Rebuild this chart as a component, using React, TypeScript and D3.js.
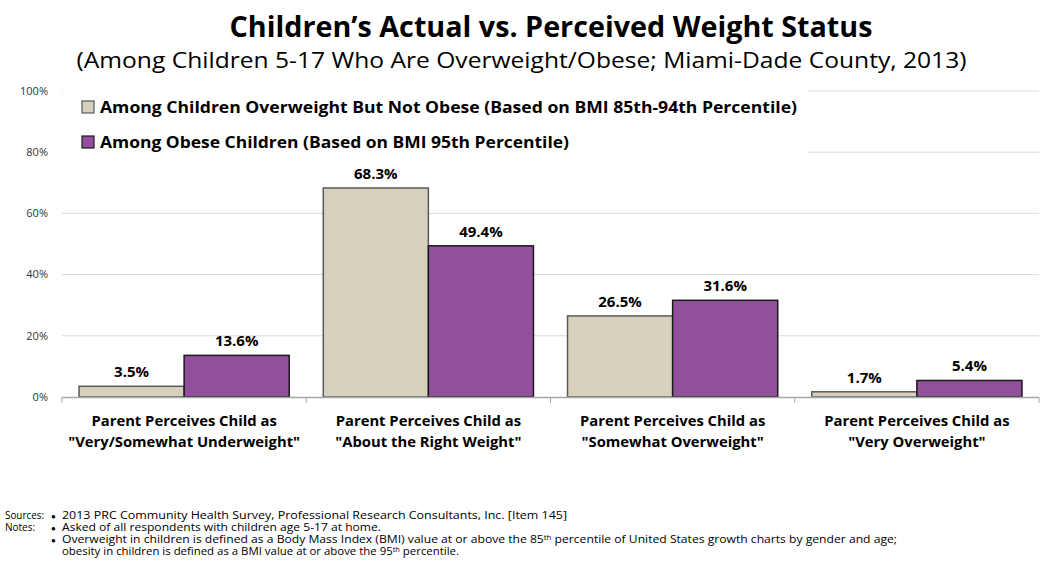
import React from "react";
import * as d3 from "d3";

const categories = [
  ["Parent Perceives Child as", "\"Very/Somewhat Underweight\""],
  ["Parent Perceives Child as", "\"About the Right Weight\""],
  ["Parent Perceives Child as", "\"Somewhat Overweight\""],
  ["Parent Perceives Child as", "\"Very Overweight\""],
];
const seriesNames = [
  "Among Children Overweight But Not Obese (Based on BMI 85th-94th Percentile)",
  "Among Obese Children (Based on BMI 95th Percentile)",
];
const overweightValues = [3.5, 68.3, 26.5, 1.7];
const obeseValues = [13.6, 49.4, 31.6, 5.4];
const yTicks = [0, 20, 40, 60, 80, 100];
const colors = ["#D6D1BD", "#92509C"];
const strokes = ["#5a5a5a", "#1a1a1a"];

const W = 1043;
const H = 563;
const left = 62;
const right = 1039;
const top = 91;
const bottom = 397;
const FONT = "'Open Sans', 'Noto Sans', sans-serif";

export default function App() {
  const x0 = d3
    .scaleBand<number>()
    .domain(d3.range(categories.length))
    .range([left, right])
    .paddingInner(0)
    .paddingOuter(0);
  const bw = x0.bandwidth();
  const x1 = d3
    .scaleBand<number>()
    .domain([0, 1])
    .range([0, bw])
    .paddingOuter(0.162)
    .paddingInner(0);
  const y = d3.scaleLinear().domain([0, 100]).range([bottom, top]);
  const series = [overweightValues, obeseValues];

  const fx = 62;
  return (
    <div style={{ position: "absolute", left: 0, top: 0, width: W, height: H, background: "#fff" }}>
      <svg width={W} height={H} style={{ display: "block" }}>
        <rect x={0} y={0} width={W} height={H} fill="#fff" />
        {/* title */}
        <text
          x={551}
          y={37}
          textAnchor="middle"
          fontFamily={FONT}
          fontWeight="bold"
          fontSize={29}
          textLength={643}
          lengthAdjust="spacingAndGlyphs"
          fill="#000"
        >
          Children’s Actual vs. Perceived Weight Status
        </text>
        <text
          x={W / 2}
          y={68}
          textAnchor="middle"
          fontFamily={FONT}
          fontSize={22}
          textLength={890}
          lengthAdjust="spacingAndGlyphs"
          fill="#000"
        >
          (Among Children 5-17 Who Are Overweight/Obese; Miami-Dade County, 2013)
        </text>

        {/* gridlines */}
        {yTicks.slice(1).map((t) => (
          <line key={t} x1={left} x2={right} y1={y(t)} y2={y(t)} stroke="#d9d9d9" strokeWidth={1} />
        ))}
        {/* y tick labels */}
        {yTicks.map((t) => (
          <text
            key={t}
            x={48}
            y={y(t)}
            dy="0.35em"
            textAnchor="end"
            fontFamily={FONT}
            fontSize={11}
            fill="#333"
          >
            {t}%
          </text>
        ))}

        {/* legend box (white background covering gridlines) */}
        <rect x={63} y={85} width={745} height={78} fill="#fff" />
        {seriesNames.map((name, i) => (
          <g key={name} transform={`translate(82, ${101 + i * 35})`}>
            <rect x={0} y={0} width={12} height={12} fill={colors[i]} stroke={strokes[i]} strokeWidth={1.2} />
            <text
              x={18}
              y={12}
              fontFamily={FONT}
              fontWeight="bold"
              fontSize={15.5}
              fill="#000"
              textLength={i === 0 ? 697 : 469}
              lengthAdjust="spacingAndGlyphs"
            >
              {name}
            </text>
          </g>
        ))}

        {/* bars */}
        {categories.map((c, ci) => (
          <g key={ci} transform={`translate(${x0(ci)},0)`}>
            {series.map((vals, si) => (
              <g key={si}>
                <rect
                  x={x1(si)}
                  y={y(vals[ci])}
                  width={x1.bandwidth()}
                  height={bottom - y(vals[ci])}
                  fill={colors[si]}
                  stroke={strokes[si]}
                  strokeWidth={1.5}
                />
                <text
                  x={(x1(si) as number) + x1.bandwidth() / 2}
                  y={y(vals[ci]) - 9}
                  textAnchor="middle"
                  fontFamily={FONT}
                  fontWeight="bold"
                  fontSize={15}
                  fill="#000"
                >
                  {vals[ci].toFixed(1)}%
                </text>
              </g>
            ))}
          </g>
        ))}

        {/* x axis */}
        <line x1={left} x2={right} y1={bottom + 0.5} y2={bottom + 0.5} stroke="#a6a6a6" strokeWidth={1.5} />
        {d3.range(categories.length + 1).map((i) => {
          const xx = i < categories.length ? (x0(i) as number) : right;
          return <line key={i} x1={xx} x2={xx} y1={bottom} y2={bottom + 6} stroke="#a6a6a6" strokeWidth={1} />;
        })}
        {categories.map((c, ci) => (
          <text
            key={ci}
            x={(x0(ci) as number) + bw / 2}
            textAnchor="middle"
            fontFamily={FONT}
            fontWeight="bold"
            fontSize={14.8}
            fill="#000"
          >
            <tspan x={(x0(ci) as number) + bw / 2} y={426}>
              {c[0]}
            </tspan>
            <tspan x={(x0(ci) as number) + bw / 2} y={447}>
              {c[1]}
            </tspan>
          </text>
        ))}

        {/* footer */}
        <g fontFamily={FONT} fontSize={10} fill="#000">
          <text x={5} y={519} textLength={39} lengthAdjust="spacingAndGlyphs">Sources:</text>
          <text x={5} y={531} textLength={30} lengthAdjust="spacingAndGlyphs">Notes:</text>
          <text x={51} y={518.5} fontSize={8}>●</text>
          <text x={51} y={530.5} fontSize={8}>●</text>
          <text x={51} y={542.5} fontSize={8}>●</text>
          <text x={fx} y={519} textLength={505} lengthAdjust="spacingAndGlyphs">
            2013 PRC Community Health Survey,  Professional Research Consultants, Inc.  [Item 145]
          </text>
          <text x={fx} y={531} textLength={319} lengthAdjust="spacingAndGlyphs">
            Asked of all respondents with children age 5-17 at home.
          </text>
          <text x={fx} y={543} textLength={835} lengthAdjust="spacingAndGlyphs">
            Overweight in children is defined as a Body Mass Index (BMI)  value at or above the 85
            <tspan fontSize={6.5} dy={-3}>th</tspan>
            <tspan dy={3}> percentile of United States growth charts by gender and age;</tspan>
          </text>
          <text x={fx} y={555} textLength={397} lengthAdjust="spacingAndGlyphs">
            obesity in children is defined as a BMI value at or above the 95
            <tspan fontSize={6.5} dy={-3}>th</tspan>
            <tspan dy={3}> percentile.</tspan>
          </text>
        </g>
      </svg>
    </div>
  );
}
